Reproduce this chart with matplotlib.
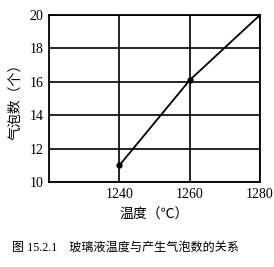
import matplotlib.pyplot as plt

plt.rcParams['font.family'] = ['Liberation Serif', 'Noto Sans CJK SC']

temps = [1240, 1260, 1280]
bubbles = [11, 16.1, 20]
xticks = [1240, 1260, 1280]
yticks = [10, 12, 14, 16, 18, 20]

fig = plt.figure(figsize=(2.74, 2.67), dpi=100)
ax = fig.add_axes([0.179, 0.318, 0.77, 0.626])

ax.plot(temps, bubbles, color='black', lw=1.3, marker='o', ms=3.5)
ax.set_xlim(1220, 1280)
ax.set_ylim(10, 20)
ax.set_xticks(xticks)
ax.set_yticks(yticks)
ax.grid(True, color='black', lw=1.2)
ax.tick_params(length=0, labelsize=10, pad=4)
for s in ax.spines.values():
    s.set_linewidth(1.3)

cjk = ['Noto Sans CJK SC', 'DejaVu Sans']
ax.set_ylabel('气泡数（个）', family=cjk, fontsize=10, labelpad=5)
ax.set_xlabel('温度（℃）', family=cjk, fontsize=10, labelpad=5)
fig.text(0.045, 0.062, '图 15.2.1    玻璃液温度与产生气泡数的关系',
         family=['Liberation Serif', 'Noto Sans CJK SC'], fontsize=8.7)

fig.savefig('out.png', dpi=100)
